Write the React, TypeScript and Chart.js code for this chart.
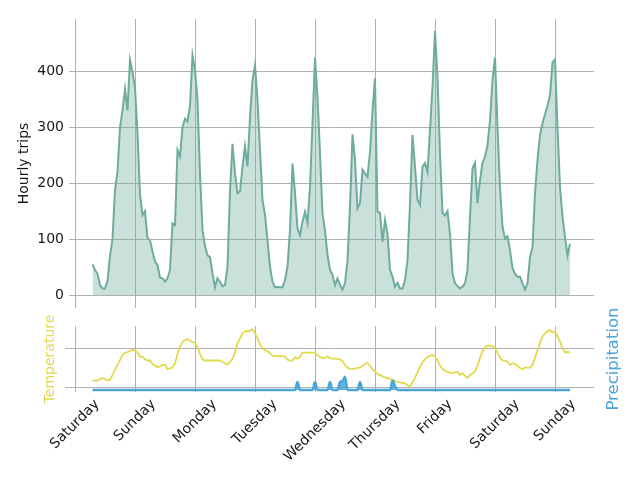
import React, { useEffect, useRef } from 'react';
import { Chart, registerables } from 'chart.js';
Chart.register(...registerables);

// ---------- data ----------
const START_HOUR = 7; // first sample: Saturday 07:00 (hours counted from Saturday 00:00)
const dayLabels = ['Saturday', 'Sunday', 'Monday', 'Tuesday', 'Wednesday', 'Thursday', 'Friday', 'Saturday', 'Sunday'];
const dayTickHours = [0, 24, 48, 72, 96, 120, 144, 168, 192];
const tripTicks = [0, 100, 200, 300, 400];
const tempTicks = [10, 20];

const trips = [
  55, 45, 38, 18, 12, 12, 25, 70, 100, 188, 220, 299, 330, 368, 330, 420, 398,
  370, 290, 180, 143, 150, 102, 98, 78, 60, 54, 31, 30, 24, 30, 45, 128, 125, 259, 248, 300, 315, 310, 338, 428,
  402, 348, 217, 116, 88, 71, 68, 39, 14, 30, 24, 16, 18, 51, 187, 270, 217, 182, 185, 229, 266, 230, 318, 384,
  411, 348, 259, 170, 143, 98, 51, 24, 14, 15, 14, 14, 27, 51, 116, 235, 182, 119, 107, 131, 149, 129, 193, 307,
  424, 354, 253, 146, 115, 72, 45, 36, 18, 30, 18, 10, 21, 62, 158, 287, 241, 155, 164, 224, 217, 211, 256, 330,
  387, 149, 147, 95, 134, 110, 45, 33, 15, 22, 12, 12, 27, 62, 164, 286, 229, 170, 161, 229, 236, 220, 295, 372,
  472, 390, 253, 147, 142, 150, 110, 39, 21, 16, 12, 15, 21, 45, 140, 226, 236, 164, 205, 236, 247, 268, 312, 384,
  424, 300, 193, 122, 101, 105, 80, 48, 38, 33, 33, 21, 10, 21, 68, 86, 182, 241, 286, 307, 323, 338, 357, 415,
  421, 300, 193, 140, 104, 71, 92,
];

const temperature = [
  11.8, 11.8, 11.8, 12.2, 12.4, 12.2, 11.8, 12.0, 13.2, 14.6, 15.8, 17.0, 18.3, 18.8, 19.0, 19.3, 19.6,
  19.4, 18.9, 17.9, 17.8, 17.2, 16.9, 16.9, 16.0, 15.6, 15.2, 15.4, 15.8, 15.8, 14.7, 14.9, 15.1, 16.2, 18.5, 20.5, 21.6, 22.1, 22.3, 21.9, 21.6,
  21.3, 20.3, 18.5, 17.2, 16.9, 16.9, 16.9, 16.9, 16.9, 16.9, 16.9, 16.6, 16.2, 15.9, 16.5, 17.3, 19.0, 21.3, 22.5, 23.8, 24.3, 24.3, 24.5, 24.8,
  23.8, 22.5, 21.0, 19.9, 19.5, 19.3, 18.7, 18.1, 18.0, 18.0, 18.0, 18.0, 17.9, 17.1, 16.9, 16.9, 17.7, 17.4, 17.8, 18.9, 18.9, 18.9, 18.9, 18.9,
  18.9, 18.2, 17.8, 17.5, 17.6, 17.9, 17.5, 17.4, 17.4, 17.3, 17.1, 16.8, 15.8, 15.1, 14.8, 14.7, 14.9, 15.0, 15.1, 15.6, 16.0, 16.3, 15.5, 14.7,
  14.1, 13.5, 13.2, 12.9, 12.6, 12.4, 12.2, 12.0, 11.7, 11.5, 11.3, 11.2, 11.1, 10.6, 10.3, 11.3, 12.5, 13.9, 15.3, 16.4, 17.2, 17.8, 18.1, 18.3,
  17.9, 16.9, 15.6, 14.7, 14.3, 14.0, 13.8, 13.7, 13.9, 14.0, 13.2, 13.6, 13.0, 12.5, 13.2, 13.6, 14.1, 15.5, 17.6, 19.2, 20.3, 20.7, 20.7, 20.5,
  20.0, 18.9, 17.6, 16.9, 16.8, 16.6, 15.8, 16.2, 16.0, 15.6, 15.0, 14.7, 15.1, 15.1, 15.1, 15.8, 17.5, 19.5, 21.3, 23.0, 23.7, 24.3, 24.6, 24.0,
  24.3, 23.0, 21.7, 20.0, 19.0, 19.0, 19.0,
];

const precipitation = [
  0, 0, 0, 0, 0, 0, 0, 0, 0, 0, 0, 0, 0, 0, 0, 0, 0,
  0, 0, 0, 0, 0, 0, 0, 0, 0, 0, 0, 0, 0, 0, 0, 0, 0, 0, 0, 0, 0, 0, 0, 0,
  0, 0, 0, 0, 0, 0, 0, 0, 0, 0, 0, 0, 0, 0, 0, 0, 0, 0, 0, 0, 0, 0, 0, 0,
  0, 0, 0, 0, 0, 0, 0, 0, 0, 0, 0, 0, 0, 0, 0, 0, 0, 0.5, 0, 0, 0, 0, 0, 0,
  0.5, 0, 0, 0, 0, 0, 0.5, 0, 0, 0, 0.5, 0.55, 0.83, 0, 0, 0, 0, 0, 0.5, 0, 0, 0, 0, 0,
  0, 0, 0, 0, 0, 0, 0, 0.6, 0.25, 0, 0, 0, 0, 0, 0, 0, 0, 0, 0, 0, 0, 0, 0, 0,
  0, 0, 0, 0, 0, 0, 0, 0, 0, 0, 0, 0, 0, 0, 0, 0, 0, 0, 0, 0, 0, 0, 0, 0,
  0, 0, 0, 0, 0, 0, 0, 0, 0, 0, 0, 0, 0, 0, 0, 0, 0, 0, 0, 0, 0, 0, 0, 0,
  0, 0, 0, 0, 0, 0, 0,
];

// ---------- styles ----------
const FONT = '"DejaVu Sans", sans-serif';
const GRID = '#b0b0b0';
const TEAL = '#6eac9e';
const TEAL_FILL = 'rgba(110,172,158,0.37)';
const YELLOW = '#e3d94c';
const BLUE = '#4aa6d9';
const TEXT = '#1a1a1a';

const toPoints = (arr: number[]) => arr.map((v, i) => ({ x: START_HOUR + i, y: v }));

const X_MIN = -2.4;
const X_MAX = 207.6;

const topTitlePlugin = {
  id: 'topTitle',
  afterDraw(chart: any) {
    const ctx = chart.ctx;
    const { top, bottom } = chart.chartArea;
    ctx.save();
    ctx.font = `14px ${FONT}`;
    ctx.fillStyle = TEXT;
    ctx.textAlign = 'center';
    ctx.textBaseline = 'middle';
    ctx.translate(24, (top + bottom) / 2);
    ctx.rotate(-Math.PI / 2);
    ctx.fillText('Hourly trips', 0, 0);
    ctx.restore();
  },
};

const bottomTextPlugin = {
  id: 'bottomText',
  afterDraw(chart: any) {
    const ctx = chart.ctx;
    const xs = chart.scales.x;
    const { top, bottom } = chart.chartArea;
    ctx.save();
    ctx.font = `14px ${FONT}`;
    ctx.fillStyle = TEXT;
    ctx.textAlign = 'center';
    ctx.textBaseline = 'middle';
    const labelTop = bottom + 5;
    dayTickHours.forEach((h, i) => {
      const label = dayLabels[i];
      const w = ctx.measureText(label).width;
      const half = (w + 14) / (2 * Math.SQRT2);
      const cx = xs.getPixelForValue(h);
      const cy = labelTop + half;
      ctx.save();
      ctx.translate(cx, cy);
      ctx.rotate(-Math.PI / 4);
      ctx.fillText(label, 0, 0);
      ctx.restore();
    });
    const cy = (top + bottom) / 2;
    ctx.save();
    ctx.fillStyle = YELLOW;
    ctx.translate(50, cy);
    ctx.rotate(-Math.PI / 2);
    ctx.fillText('Temperature', 0, 0);
    ctx.restore();
    ctx.save();
    ctx.font = `16.5px ${FONT}`;
    ctx.fillStyle = BLUE;
    ctx.translate(614, cy);
    ctx.rotate(-Math.PI / 2);
    ctx.fillText('Precipitation', 0, 0);
    ctx.restore();
    ctx.restore();
  },
};

const fixWidth = (s: any) => {
  s.width = 69;
  s.paddingTop = 0;
  s.paddingBottom = 0;
};

export default function App() {
  const topRef = useRef<HTMLCanvasElement>(null);
  const botRef = useRef<HTMLCanvasElement>(null);

  useEffect(() => {
    const xAxisBase = (height: number) => ({
      type: 'linear' as const,
      min: X_MIN,
      max: X_MAX,
      afterBuildTicks: (s: any) => {
        s.ticks = dayTickHours.map((v) => ({ value: v }));
      },
      ticks: { display: false },
      grid: { color: GRID, lineWidth: 1, drawTicks: false },
      border: { display: false },
      afterFit: (s: any) => {
        s.height = height;
        s.paddingLeft = 0;
        s.paddingRight = 0;
      },
    });

    const top = new Chart(topRef.current as HTMLCanvasElement, {
      type: 'line',
      data: {
        datasets: [
          {
            data: toPoints(trips),
            borderColor: TEAL,
            backgroundColor: TEAL_FILL,
            fill: 'origin',
            borderWidth: 2,
            pointRadius: 0,
            tension: 0,
          },
        ],
      },
      options: {
        animation: false,
        responsive: false,
        events: [],
        layout: { padding: { left: 0, right: 46, top: 19, bottom: 0 } },
        plugins: { legend: { display: false }, tooltip: { enabled: false } },
        scales: {
          x: xAxisBase(0) as any,
          y: {
            min: -23,
            max: 493,
            afterBuildTicks: (s: any) => {
              s.ticks = tripTicks.map((v) => ({ value: v }));
            },
            ticks: { font: { family: FONT, size: 14 }, color: TEXT, padding: 5 },
            grid: { color: GRID, lineWidth: 1, drawTicks: false },
            border: { display: false },
            afterFit: fixWidth,
          },
        },
      },
      plugins: [topTitlePlugin],
    });

    const bot = new Chart(botRef.current as HTMLCanvasElement, {
      type: 'line',
      data: {
        datasets: [
          {
            data: toPoints(precipitation),
            yAxisID: 'y2',
            borderColor: BLUE,
            backgroundColor: 'rgba(74,166,217,0.85)',
            fill: 'origin',
            borderWidth: 2.5,
            pointRadius: 0,
            cubicInterpolationMode: 'monotone',
          },
          {
            data: toPoints(temperature),
            yAxisID: 'y',
            borderColor: YELLOW,
            borderWidth: 1.8,
            fill: false,
            pointRadius: 0,
            tension: 0,
          },
        ],
      },
      options: {
        animation: false,
        responsive: false,
        events: [],
        layout: { padding: { left: 0, right: 46, top: 18, bottom: 0 } },
        plugins: { legend: { display: false }, tooltip: { enabled: false } },
        scales: {
          x: xAxisBase(88) as any,
          y: {
            position: 'left',
            min: 8.9,
            max: 25.66,
            afterBuildTicks: (s: any) => {
              s.ticks = tempTicks.map((v) => ({ value: v }));
            },
            ticks: { callback: () => '', font: { family: FONT, size: 14 } },
            grid: { color: GRID, lineWidth: 1, drawTicks: true, tickLength: 4 },
            border: { display: false },
            afterFit: fixWidth,
          },
          y2: {
            position: 'right',
            display: false,
            min: -0.125,
            max: 4,
            grid: { display: false },
          },
        },
      },
      plugins: [bottomTextPlugin],
    });

    return () => {
      top.destroy();
      bot.destroy();
    };
  }, []);

  return (
    <div style={{ position: 'absolute', left: 0, top: 0, width: 640, height: 480, background: '#fff' }}>
      <canvas ref={topRef} width={640} height={308} style={{ position: 'absolute', left: 0, top: 0, width: 640, height: 308 }} />
      <canvas ref={botRef} width={640} height={172} style={{ position: 'absolute', left: 0, top: 308, width: 640, height: 172 }} />
    </div>
  );
}
